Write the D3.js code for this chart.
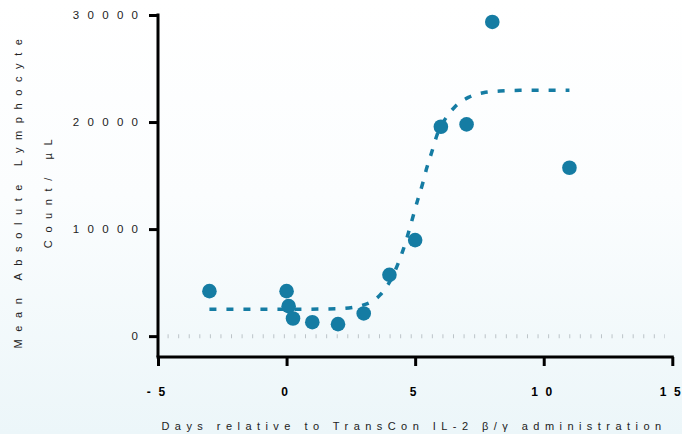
<!DOCTYPE html>
<html><head><meta charset="utf-8">
<script src="https://cdn.jsdelivr.net/npm/d3@7"></script>
<style>html,body{margin:0;padding:0;overflow:hidden;}svg{display:block;}</style>
</head><body>
<script>
// Observed data (days, mean absolute lymphocyte count / µL)
const days   = [-3, 0, 0.08, 0.25, 1, 2, 3, 4, 5, 6, 7, 8, 11];
const counts = [4200, 4200, 2800, 1650, 1300, 1120, 2120, 5730, 8970, 19560, 19780, 29350, 15730];
// Fitted curve
const fitDays   = [-3, 0, 2, 2.97, 3.63, 3.98, 4.53, 5.11, 5.30, 5.45, 5.65, 5.85, 6.23, 6.55, 7.07, 7.65, 8.30, 9.08, 9.73, 11.0];
const fitCounts = [2500, 2500, 2560, 2900, 3830, 4950, 8040, 12800, 14330, 15700, 17220, 18790, 20500, 21430, 22300, 22740, 22900, 22960, 22960, 22960];
const xTicks = [-5, 0, 5, 10, 15];
const yTicks = [0, 10000, 20000, 30000];
const yTitle1 = "Mean Absolute Lymphocyte";
const yTitle2 = "Count/ µL";
const xTitle = "Days relative to TransCon IL-2 β/γ administration";

const W = 682, H = 434;
const color = "#157ca3";
const svg = d3.select("body").append("svg").attr("width", W).attr("height", H);
const defs = svg.append("defs");
const grad = defs.append("linearGradient").attr("id","bg").attr("x1",0).attr("y1",0).attr("x2",0).attr("y2",1);
grad.append("stop").attr("offset","0%").attr("stop-color","#ffffff");
grad.append("stop").attr("offset","45%").attr("stop-color","#fbfdfe");
grad.append("stop").attr("offset","100%").attr("stop-color","#ecf6f9");
svg.append("rect").attr("width",W).attr("height",H).attr("fill","url(#bg)");

const x = d3.scaleLinear().domain([-5, 15]).range([158, 672.3]);
const y = d3.scaleLinear().domain([-1950, 30000]).range([357, 15]);

// dotted zero line
svg.append("line")
  .attr("x1", 167.6).attr("x2", 665).attr("y1", y(0)).attr("y2", y(0))
  .attr("stroke", "#bcc4c8").attr("stroke-width", 4).attr("stroke-dasharray", "1,9.57");

const font = "'Liberation Sans', Arial, sans-serif";

// spread characters with tspans (no trailing spacing)
function spread(sel, sp, shift) {
  sel.each(function() {
    const t = d3.select(this);
    const s = t.text();
    t.text(null);
    s.split("").forEach((c, i) => t.append("tspan").attr("dx", i ? sp : shift).text(c));
  });
}

// Y axis
const yAxis = svg.append("g").attr("transform", `translate(${x(-5)},0)`)
  .call(d3.axisLeft(y).tickValues(yTicks).tickSize(9).tickPadding(11).tickFormat(d3.format("d")));
yAxis.select(".domain").attr("d", `M0,${y(30000)-1.5}V${y(-1950)}`).attr("stroke","#000").attr("stroke-width",3);
yAxis.selectAll(".tick line").attr("stroke","#000").attr("stroke-width",3);
yAxis.selectAll(".tick text").attr("font-family", font).attr("font-size", 11.5).attr("fill","#222")
  .call(spread, 8.3, 0);

// X axis
const xAxis = svg.append("g").attr("transform", `translate(0,${y(-1950)})`)
  .call(d3.axisBottom(x).tickValues(xTicks).tickSize(9).tickPadding(21).tickFormat(d => d < 0 ? "-" + Math.abs(d) : d));
xAxis.select(".domain").attr("d", `M${x(-5)-1.5},0H${x(15)+1.5}`).attr("stroke","#000").attr("stroke-width",3);
xAxis.selectAll(".tick line").attr("stroke","#000").attr("stroke-width",3);
xAxis.selectAll(".tick text").attr("font-family", font).attr("font-size", 12).attr("font-weight","bold").attr("fill","#000")
  .call(spread, 7.6, -2.5);

// Fit curve
const line = d3.line().x((d,i) => x(fitDays[i])).y((d,i) => y(fitCounts[i])).curve(d3.curveMonotoneX);
svg.append("path").datum(fitCounts).attr("d", line)
  .attr("fill","none").attr("stroke", color).attr("stroke-width", 3.5).attr("stroke-dasharray","7,10");

// Points
svg.append("g").selectAll("circle").data(counts).join("circle")
  .attr("cx", (d,i) => x(days[i])).attr("cy", d => y(d)).attr("r", 7.3).attr("fill", color);

// Titles
svg.append("text").attr("transform", `translate(22,190) rotate(-90)`).attr("text-anchor","middle")
  .attr("font-family", font).attr("font-size", 11).attr("fill","#222").style("letter-spacing","7.6px").text(yTitle1);
svg.append("text").attr("transform", `translate(52,190) rotate(-90)`).attr("text-anchor","middle")
  .attr("font-family", font).attr("font-size", 11).attr("fill","#222").style("letter-spacing","7.6px").text(yTitle2);
svg.append("text").attr("x", 414).attr("y", 430).attr("text-anchor","middle")
  .attr("font-family", font).attr("font-size", 11).attr("fill","#222").style("letter-spacing","5.45px").text(xTitle);
</script>
</body></html>
